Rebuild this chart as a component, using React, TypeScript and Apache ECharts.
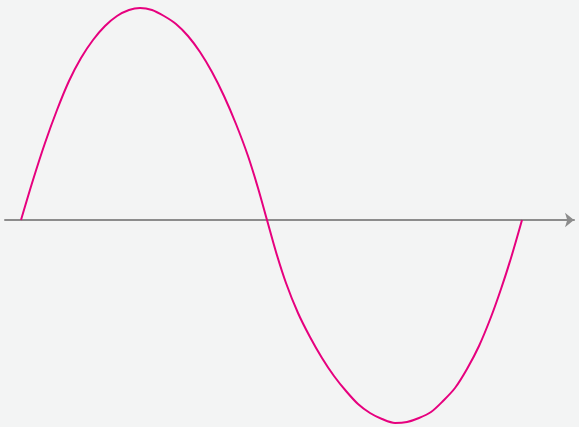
import React, { useEffect, useRef } from "react";
import * as echarts from "echarts";

// Points (x position along axis, signed height)
const curveX = [
  21, 33, 45, 57, 69, 81, 93, 105, 117, 129, 140,
  152, 164, 176, 188, 200, 212, 224, 236, 248, 258, 267,
  276, 286, 298, 310, 322, 334, 346, 358, 370, 382, 395,
  407, 419, 431, 443, 455, 467, 479, 491, 501, 511, 522,
];
const curveY = [
  0, 40, 77, 110, 139, 162, 180, 194, 204, 210, 212,
  210, 204, 196, 184, 168, 148, 124, 96, 64, 32, 0,
  -32, -63, -93, -117, -138, -156, -171, -184, -193, -199, -203,
  -202, -198, -192, -181, -168, -149, -126, -97, -69, -38, 0,
];

export default function App() {
  const ref = useRef<HTMLDivElement>(null);
  useEffect(() => {
    if (!ref.current) return;
    const chart = echarts.init(ref.current, undefined, { renderer: "svg" });
    const data = curveX.map((x, i) => [x, curveY[i]]);
    chart.setOption({
      animation: false,
      backgroundColor: "#f3f4f4",
      grid: { left: 5, right: 5, top: 8, bottom: 4, containLabel: false },
      xAxis: {
        type: "value",
        min: 5,
        max: 574,
        axisLine: {
          show: true,
          onZero: true,
          symbol: ["none", "arrow"],
          symbolSize: [11, 9],
          lineStyle: { color: "#8c8c8c", width: 2 },
        },
        axisTick: { show: false },
        axisLabel: { show: false },
        splitLine: { show: false },
      },
      yAxis: {
        type: "value",
        min: -203,
        max: 212,
        show: false,
        splitLine: { show: false },
      },
      series: [
        {
          type: "line",
          data,
          smooth: 0.3,
          showSymbol: false,
          symbol: "none",
          lineStyle: { color: "#e6007e", width: 2 },
        },
      ],
    });
    return () => chart.dispose();
  }, []);
  return (
    <div
      ref={ref}
      style={{ position: "fixed", left: 0, top: 0, width: 579, height: 427 }}
    />
  );
}
